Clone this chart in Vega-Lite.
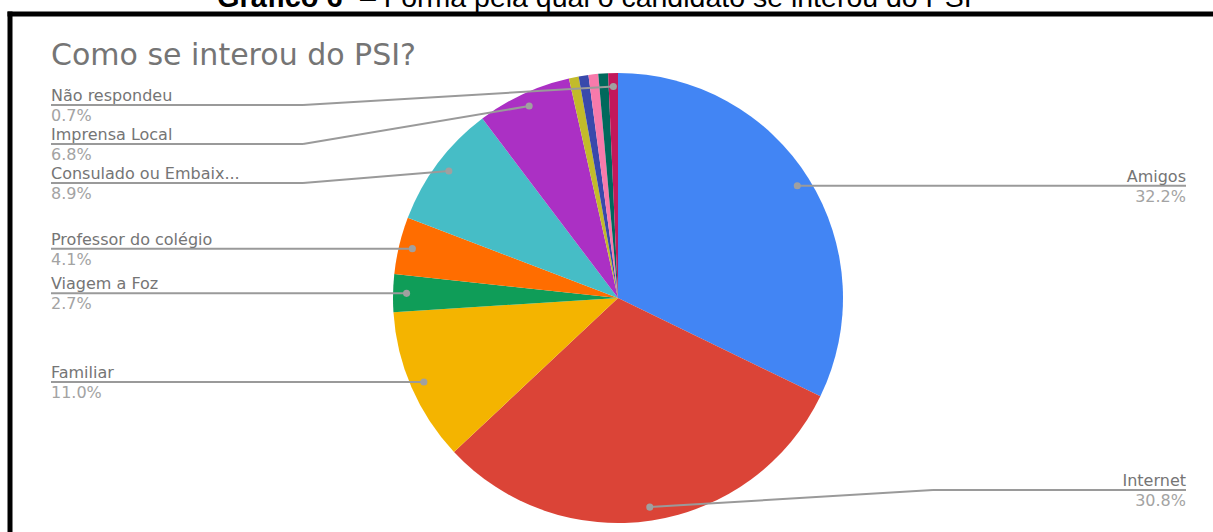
{
  "$schema": "https://vega.github.io/schema/vega-lite/v6.json",
  "width": 1203,
  "height": 518,
  "autosize": "none",
  "padding": {"left": 10, "top": 14, "right": 0, "bottom": 0},
  "background": "white",
  "datasets": {
    "slices": [
      {"name": "Amigos", "share": 0.322, "shown": true},
      {"name": "Internet", "share": 0.308, "shown": true},
      {"name": "Familiar", "share": 0.110, "shown": true},
      {"name": "Viagem a Foz", "share": 0.027, "shown": true},
      {"name": "Professor do colégio", "share": 0.041, "shown": true},
      {"name": "Consulado ou Embaix...", "share": 0.089, "shown": true},
      {"name": "Imprensa Local", "share": 0.068, "shown": true},
      {"name": "Outro 1", "share": 0.007, "shown": false},
      {"name": "Outro 2", "share": 0.007, "shown": false},
      {"name": "Outro 3", "share": 0.007, "shown": false},
      {"name": "Outro 4", "share": 0.007, "shown": false},
      {"name": "Não respondeu", "share": 0.007, "shown": true}
    ]
  },
  "layer": [
    {
      "data": {"values": [{"caption": "Gráfico 6"}]},
      "mark": {"type": "text", "font": "Liberation Sans", "fontSize": 29, "fontWeight": "bold", "color": "black", "align": "left", "baseline": "alphabetic", "clip": false},
      "encoding": {
        "text": {"field": "caption"},
        "x": {"datum": -1.782222, "type": "quantitative", "scale": {"domain": [-2.702222, 2.644444], "nice": false, "zero": false}},
        "y": {"datum": 1.293333, "type": "quantitative", "scale": {"domain": [-1.04, 1.262222], "nice": false, "zero": false}}
      }
    },
    {
      "data": {"values": [{"caption": "– Forma pela qual o candidato se interou do PSI"}]},
      "mark": {"type": "text", "font": "Liberation Sans", "fontSize": 28.5, "color": "black", "align": "left", "baseline": "alphabetic", "clip": false},
      "encoding": {
        "text": {"field": "caption"},
        "x": {"datum": -1.146667, "type": "quantitative", "scale": {"domain": [-2.702222, 2.644444], "nice": false, "zero": false}},
        "y": {"datum": 1.293333, "type": "quantitative", "scale": {"domain": [-1.04, 1.262222], "nice": false, "zero": false}}
      }
    },
    {
      "data": {"values": [{"frame": "box"}]},
      "mark": {"type": "rule", "color": "black", "strokeWidth": 5, "strokeCap": "square", "clip": false},
      "encoding": {
        "x": {"datum": -2.702222, "type": "quantitative", "scale": {"domain": [-2.702222, 2.644444], "nice": false, "zero": false}},
        "y": {"datum": -1.04, "type": "quantitative", "scale": {"domain": [-1.04, 1.262222], "nice": false, "zero": false}},
        "y2": {"datum": 1.262222}
      }
    },
    {
      "data": {"values": [{"frame": "box"}]},
      "mark": {"type": "rule", "color": "black", "strokeWidth": 5, "strokeCap": "square", "clip": false},
      "encoding": {
        "x": {"datum": -2.702222, "type": "quantitative", "scale": {"domain": [-2.702222, 2.644444], "nice": false, "zero": false}},
        "x2": {"datum": 2.7},
        "y": {"datum": 1.262222, "type": "quantitative", "scale": {"domain": [-1.04, 1.262222], "nice": false, "zero": false}}
      }
    },
    {
      "data": {"values": [{"heading": "Como se interou do PSI?"}]},
      "mark": {"type": "text", "font": "DejaVu Sans", "fontSize": 30, "color": "#757575", "align": "left", "baseline": "alphabetic"},
      "encoding": {
        "text": {"field": "heading"},
        "x": {"datum": -2.52, "type": "quantitative", "scale": {"domain": [-2.702222, 2.644444], "nice": false, "zero": false}},
        "y": {"datum": 1.035556, "type": "quantitative", "scale": {"domain": [-1.04, 1.262222], "nice": false, "zero": false}}
      }
    },
    {
      "data": {"name": "slices"},
      "transform": [{"window": [{"op": "row_number", "as": "idx"}]}],
      "mark": {"type": "arc", "outerRadius": 225},
      "encoding": {
        "theta": {"field": "share", "type": "quantitative", "stack": true},
        "order": {"field": "idx", "type": "quantitative"},
        "color": {
          "field": "name",
          "type": "nominal",
          "legend": null,
          "scale": {
            "domain": ["Amigos", "Internet", "Familiar", "Viagem a Foz", "Professor do colégio", "Consulado ou Embaix...", "Imprensa Local", "Outro 1", "Outro 2", "Outro 3", "Outro 4", "Não respondeu"],
            "range": ["#4285f4", "#db4437", "#f4b400", "#0f9d58", "#ff6d00", "#46bdc6", "#ab30c4", "#c2bb2a", "#3949ab", "#f77aab", "#00695c", "#c2185b"]
          }
        },
        "x": {"datum": 0, "type": "quantitative", "scale": {"domain": [-2.702222, 2.644444], "nice": false, "zero": false}},
        "y": {"datum": 0, "type": "quantitative", "scale": {"domain": [-1.04, 1.262222], "nice": false, "zero": false}}
      }
    },
    {
      "data": {"name": "slices"},
      "transform": [
        {"window": [{"op": "row_number", "as": "idx"}]},
        {"joinaggregate": [{"op": "sum", "field": "share", "as": "total"}]},
        {"window": [{"op": "sum", "field": "share", "as": "cum"}], "sort": [{"field": "idx"}], "frame": [null, 0]},
        {"calculate": "2 * PI * (datum.cum - datum.share / 2) / datum.total", "as": "mid"},
        {"calculate": "0.94 * sin(datum.mid)", "as": "px"},
        {"calculate": "0.94 * cos(datum.mid)", "as": "py"},
        {"filter": "datum.shown"},
        {"calculate": "datum.px < 0 ? 'L' : 'R'", "as": "side"},
        {"calculate": "clamp(-datum.py, -0.857778, 0.853333)", "as": "u"},
        {"window": [{"op": "row_number", "as": "k"}], "groupby": ["side"], "sort": [{"field": "u", "order": "ascending"}]},
        {"calculate": "datum.u - (datum.k - 1) * 0.173333", "as": "v"},
        {"window": [{"op": "max", "field": "v", "as": "vmax"}], "groupby": ["side"], "sort": [{"field": "u", "order": "ascending"}], "frame": [null, 0]},
        {"calculate": "-((datum.k - 1) * 0.173333 + datum.vmax)", "as": "ly"},
        {"calculate": "datum.side == 'L' ? -2.52 : 2.524444", "as": "lx"},
        {"calculate": "datum.side == 'L' ? -1.4 : 1.4", "as": "kx"}
      ],
      "layer": [
        {
          "mark": {"type": "rule", "color": "#9a9a9a", "strokeWidth": 2},
          "encoding": {
            "x": {"field": "lx", "type": "quantitative", "scale": {"domain": [-2.702222, 2.644444], "nice": false, "zero": false}},
            "x2": {"field": "kx"},
            "y": {"field": "ly", "type": "quantitative", "scale": {"domain": [-1.04, 1.262222], "nice": false, "zero": false}}
          }
        },
        {
          "mark": {"type": "rule", "color": "#9a9a9a", "strokeWidth": 2},
          "encoding": {
            "x": {"field": "kx", "type": "quantitative", "scale": {"domain": [-2.702222, 2.644444], "nice": false, "zero": false}},
            "x2": {"field": "px"},
            "y": {"field": "ly", "type": "quantitative", "scale": {"domain": [-1.04, 1.262222], "nice": false, "zero": false}},
            "y2": {"field": "py"}
          }
        },
        {
          "mark": {"type": "point", "filled": true, "size": 50, "color": "#a0a0a0", "opacity": 1},
          "encoding": {
            "x": {"field": "px", "type": "quantitative", "scale": {"domain": [-2.702222, 2.644444], "nice": false, "zero": false}},
            "y": {"field": "py", "type": "quantitative", "scale": {"domain": [-1.04, 1.262222], "nice": false, "zero": false}}
          }
        },
        {
          "transform": [{"filter": "datum.side == 'L'"}],
          "mark": {"type": "text", "font": "DejaVu Sans", "fontSize": 16, "color": "#757575", "align": "left", "baseline": "alphabetic", "dy": -4},
          "encoding": {
            "text": {"field": "name"},
            "x": {"field": "lx", "type": "quantitative", "scale": {"domain": [-2.702222, 2.644444], "nice": false, "zero": false}},
            "y": {"field": "ly", "type": "quantitative", "scale": {"domain": [-1.04, 1.262222], "nice": false, "zero": false}}
          }
        },
        {
          "transform": [{"filter": "datum.side == 'L'"}],
          "mark": {"type": "text", "font": "DejaVu Sans", "fontSize": 16, "color": "#a3a3a3", "align": "left", "baseline": "alphabetic", "dy": 16},
          "encoding": {
            "text": {"field": "share", "format": ".1%"},
            "x": {"field": "lx", "type": "quantitative", "scale": {"domain": [-2.702222, 2.644444], "nice": false, "zero": false}},
            "y": {"field": "ly", "type": "quantitative", "scale": {"domain": [-1.04, 1.262222], "nice": false, "zero": false}}
          }
        },
        {
          "transform": [{"filter": "datum.side == 'R'"}],
          "mark": {"type": "text", "font": "DejaVu Sans", "fontSize": 16, "color": "#757575", "align": "right", "baseline": "alphabetic", "dy": -4},
          "encoding": {
            "text": {"field": "name"},
            "x": {"field": "lx", "type": "quantitative", "scale": {"domain": [-2.702222, 2.644444], "nice": false, "zero": false}},
            "y": {"field": "ly", "type": "quantitative", "scale": {"domain": [-1.04, 1.262222], "nice": false, "zero": false}}
          }
        },
        {
          "transform": [{"filter": "datum.side == 'R'"}],
          "mark": {"type": "text", "font": "DejaVu Sans", "fontSize": 16, "color": "#a3a3a3", "align": "right", "baseline": "alphabetic", "dy": 16},
          "encoding": {
            "text": {"field": "share", "format": ".1%"},
            "x": {"field": "lx", "type": "quantitative", "scale": {"domain": [-2.702222, 2.644444], "nice": false, "zero": false}},
            "y": {"field": "ly", "type": "quantitative", "scale": {"domain": [-1.04, 1.262222], "nice": false, "zero": false}}
          }
        }
      ]
    }
  ],
  "config": {
    "view": {"stroke": null},
    "axis": {"disable": true}
  }
}
